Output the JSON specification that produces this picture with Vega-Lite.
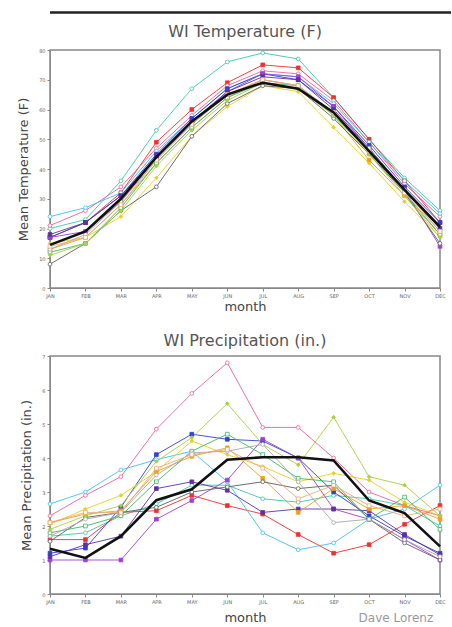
{
  "$schema": "https://vega.github.io/schema/vega-lite/v6.json",
  "background": "white",
  "padding": {"left": 16, "top": 11, "right": 0, "bottom": 0},
  "title": {"text": "Dave Lorenz", "orient": "bottom", "anchor": "end", "fontSize": 12, "color": "#999", "font": "DejaVu Sans", "fontWeight": "normal", "offset": -12, "dx": -19},
  "config": {
    "font": "DejaVu Sans",
    "view": {"stroke": "#888", "strokeWidth": 1.5},
    "title": {"fontSize": 16, "fontWeight": "normal", "color": "#555", "offset": 9},
    "axis": {"labelFontSize": 5, "labelColor": "#666", "tickSize": 3, "tickColor": "#888", "domainColor": "#888", "titleFontSize": 13, "titleFontWeight": "normal", "titleColor": "#444", "grid": false},
    "legend": {"disable": true}
  },
  "datasets": {
    "wi": [
      {"month":"JAN","station":"teal","temp":20,"precip":1.7},{"month":"FEB","station":"teal","temp":23,"precip":1.8},{"month":"MAR","station":"teal","temp":36,"precip":2.3},{"month":"APR","station":"teal","temp":53,"precip":2.65},{"month":"MAY","station":"teal","temp":67,"precip":3.2},{"month":"JUN","station":"teal","temp":76,"precip":3.2},{"month":"JUL","station":"teal","temp":79,"precip":2.8},{"month":"AUG","station":"teal","temp":77,"precip":2.7},{"month":"SEP","station":"teal","temp":64,"precip":2.9},{"month":"OCT","station":"teal","temp":50,"precip":2.8},{"month":"NOV","station":"teal","temp":37,"precip":2.6},{"month":"DEC","station":"teal","temp":26,"precip":2.0},
      {"month":"JAN","station":"red","temp":17,"precip":1.6},{"month":"FEB","station":"red","temp":22,"precip":1.6},{"month":"MAR","station":"red","temp":32,"precip":2.4},{"month":"APR","station":"red","temp":49,"precip":2.45},{"month":"MAY","station":"red","temp":60,"precip":2.9},{"month":"JUN","station":"red","temp":69,"precip":2.6},{"month":"JUL","station":"red","temp":75,"precip":2.35},{"month":"AUG","station":"red","temp":74,"precip":1.75},{"month":"SEP","station":"red","temp":64,"precip":1.2},{"month":"OCT","station":"red","temp":50,"precip":1.45},{"month":"NOV","station":"red","temp":36,"precip":2.05},{"month":"DEC","station":"red","temp":22,"precip":2.6},
      {"month":"JAN","station":"pink","temp":21,"precip":2.3},{"month":"FEB","station":"pink","temp":26,"precip":2.9},{"month":"MAR","station":"pink","temp":34,"precip":3.45},{"month":"APR","station":"pink","temp":47,"precip":4.85},{"month":"MAY","station":"pink","temp":58,"precip":5.9},{"month":"JUN","station":"pink","temp":68,"precip":6.8},{"month":"JUL","station":"pink","temp":73,"precip":4.9},{"month":"AUG","station":"pink","temp":72,"precip":4.9},{"month":"SEP","station":"pink","temp":63,"precip":4.0},{"month":"OCT","station":"pink","temp":49,"precip":3.0},{"month":"NOV","station":"pink","temp":35,"precip":2.6},{"month":"DEC","station":"pink","temp":24,"precip":2.3},
      {"month":"JAN","station":"lightblue","temp":24,"precip":2.65},{"month":"FEB","station":"lightblue","temp":27,"precip":3.0},{"month":"MAR","station":"lightblue","temp":32,"precip":3.65},{"month":"APR","station":"lightblue","temp":46,"precip":3.95},{"month":"MAY","station":"lightblue","temp":57,"precip":4.2},{"month":"JUN","station":"lightblue","temp":67,"precip":3.3},{"month":"JUL","station":"lightblue","temp":72,"precip":1.8},{"month":"AUG","station":"lightblue","temp":71,"precip":1.3},{"month":"SEP","station":"lightblue","temp":62,"precip":1.5},{"month":"OCT","station":"lightblue","temp":49,"precip":2.2},{"month":"NOV","station":"lightblue","temp":36,"precip":2.5},{"month":"DEC","station":"lightblue","temp":25,"precip":3.2},
      {"month":"JAN","station":"blue","temp":17,"precip":1.2},{"month":"FEB","station":"blue","temp":22,"precip":1.35},{"month":"MAR","station":"blue","temp":31,"precip":2.55},{"month":"APR","station":"blue","temp":45,"precip":4.1},{"month":"MAY","station":"blue","temp":57,"precip":4.7},{"month":"JUN","station":"blue","temp":67,"precip":4.55},{"month":"JUL","station":"blue","temp":72,"precip":4.5},{"month":"AUG","station":"blue","temp":70,"precip":4.0},{"month":"SEP","station":"blue","temp":61,"precip":3.0},{"month":"OCT","station":"blue","temp":48,"precip":2.3},{"month":"NOV","station":"blue","temp":34,"precip":1.7},{"month":"DEC","station":"blue","temp":22,"precip":1.2},
      {"month":"JAN","station":"purple","temp":17,"precip":1.0},{"month":"FEB","station":"purple","temp":19,"precip":1.0},{"month":"MAR","station":"purple","temp":29,"precip":1.0},{"month":"APR","station":"purple","temp":44,"precip":2.2},{"month":"MAY","station":"purple","temp":55,"precip":2.75},{"month":"JUN","station":"purple","temp":66,"precip":3.35},{"month":"JUL","station":"purple","temp":72,"precip":4.55},{"month":"AUG","station":"purple","temp":71,"precip":4.0},{"month":"SEP","station":"purple","temp":61,"precip":2.5},{"month":"OCT","station":"purple","temp":47,"precip":2.2},{"month":"NOV","station":"purple","temp":33,"precip":1.6},{"month":"DEC","station":"purple","temp":14,"precip":1.0},
      {"month":"JAN","station":"violet","temp":18,"precip":1.1},{"month":"FEB","station":"violet","temp":22,"precip":1.45},{"month":"MAR","station":"violet","temp":31,"precip":1.7},{"month":"APR","station":"violet","temp":44,"precip":3.1},{"month":"MAY","station":"violet","temp":56,"precip":3.3},{"month":"JUN","station":"violet","temp":66,"precip":3.05},{"month":"JUL","station":"violet","temp":71,"precip":2.4},{"month":"AUG","station":"violet","temp":70,"precip":2.5},{"month":"SEP","station":"violet","temp":60,"precip":2.5},{"month":"OCT","station":"violet","temp":47,"precip":2.45},{"month":"NOV","station":"violet","temp":33,"precip":1.75},{"month":"DEC","station":"violet","temp":20,"precip":1.15},
      {"month":"JAN","station":"yellow","temp":15,"precip":2.05},{"month":"FEB","station":"yellow","temp":17,"precip":2.5},{"month":"MAR","station":"yellow","temp":24,"precip":2.9},{"month":"APR","station":"yellow","temp":37,"precip":3.6},{"month":"MAY","station":"yellow","temp":51,"precip":4.5},{"month":"JUN","station":"yellow","temp":61,"precip":4.1},{"month":"JUL","station":"yellow","temp":68,"precip":3.75},{"month":"AUG","station":"yellow","temp":66,"precip":3.3},{"month":"SEP","station":"yellow","temp":54,"precip":3.55},{"month":"OCT","station":"yellow","temp":42,"precip":3.35},{"month":"NOV","station":"yellow","temp":29,"precip":2.7},{"month":"DEC","station":"yellow","temp":17,"precip":2.3},
      {"month":"JAN","station":"orange","temp":13,"precip":2.1},{"month":"FEB","station":"orange","temp":17,"precip":2.35},{"month":"MAR","station":"orange","temp":28,"precip":2.45},{"month":"APR","station":"orange","temp":42,"precip":3.6},{"month":"MAY","station":"orange","temp":54,"precip":4.05},{"month":"JUN","station":"orange","temp":64,"precip":4.3},{"month":"JUL","station":"orange","temp":70,"precip":3.4},{"month":"AUG","station":"orange","temp":68,"precip":2.4},{"month":"SEP","station":"orange","temp":58,"precip":3.1},{"month":"OCT","station":"orange","temp":43,"precip":2.5},{"month":"NOV","station":"orange","temp":31,"precip":2.6},{"month":"DEC","station":"orange","temp":18,"precip":2.2},
      {"month":"JAN","station":"grey","temp":8,"precip":1.55},{"month":"FEB","station":"grey","temp":15,"precip":2.25},{"month":"MAR","station":"grey","temp":26,"precip":2.4},{"month":"APR","station":"grey","temp":34,"precip":2.55},{"month":"MAY","station":"grey","temp":51,"precip":3.0},{"month":"JUN","station":"grey","temp":62,"precip":3.15},{"month":"JUL","station":"grey","temp":68,"precip":3.3},{"month":"AUG","station":"grey","temp":67,"precip":3.1},{"month":"SEP","station":"grey","temp":57,"precip":3.2},{"month":"OCT","station":"grey","temp":45,"precip":2.2},{"month":"NOV","station":"grey","temp":32,"precip":1.5},{"month":"DEC","station":"grey","temp":15,"precip":1.0},
      {"month":"JAN","station":"green","temp":12,"precip":1.8},{"month":"FEB","station":"green","temp":15,"precip":2.0},{"month":"MAR","station":"green","temp":27,"precip":2.3},{"month":"APR","station":"green","temp":42,"precip":3.3},{"month":"MAY","station":"green","temp":54,"precip":4.2},{"month":"JUN","station":"green","temp":64,"precip":4.7},{"month":"JUL","station":"green","temp":69,"precip":4.1},{"month":"AUG","station":"green","temp":68,"precip":3.4},{"month":"SEP","station":"green","temp":58,"precip":3.3},{"month":"OCT","station":"green","temp":46,"precip":2.2},{"month":"NOV","station":"green","temp":32,"precip":2.85},{"month":"DEC","station":"green","temp":18,"precip":1.9},
      {"month":"JAN","station":"lime","temp":11,"precip":1.9},{"month":"FEB","station":"lime","temp":15,"precip":2.3},{"month":"MAR","station":"lime","temp":26,"precip":2.6},{"month":"APR","station":"lime","temp":41,"precip":3.9},{"month":"MAY","station":"lime","temp":53,"precip":4.6},{"month":"JUN","station":"lime","temp":63,"precip":5.6},{"month":"JUL","station":"lime","temp":69,"precip":4.4},{"month":"AUG","station":"lime","temp":67,"precip":3.8},{"month":"SEP","station":"lime","temp":58,"precip":5.2},{"month":"OCT","station":"lime","temp":45,"precip":3.45},{"month":"NOV","station":"lime","temp":31,"precip":3.2},{"month":"DEC","station":"lime","temp":17,"precip":2.3},
      {"month":"JAN","station":"lightgrey","temp":13,"precip":1.7},{"month":"FEB","station":"lightgrey","temp":18,"precip":2.2},{"month":"MAR","station":"lightgrey","temp":29,"precip":2.4},{"month":"APR","station":"lightgrey","temp":43,"precip":3.5},{"month":"MAY","station":"lightgrey","temp":55,"precip":4.15},{"month":"JUN","station":"lightgrey","temp":65,"precip":4.2},{"month":"JUL","station":"lightgrey","temp":70,"precip":4.4},{"month":"AUG","station":"lightgrey","temp":68,"precip":3.3},{"month":"SEP","station":"lightgrey","temp":59,"precip":2.1},{"month":"OCT","station":"lightgrey","temp":47,"precip":2.2},{"month":"NOV","station":"lightgrey","temp":33,"precip":1.6},{"month":"DEC","station":"lightgrey","temp":19,"precip":1.1},
      {"month":"JAN","station":"peach","temp":14,"precip":2.1},{"month":"FEB","station":"peach","temp":17,"precip":2.4},{"month":"MAR","station":"peach","temp":28,"precip":2.4},{"month":"APR","station":"peach","temp":43,"precip":3.7},{"month":"MAY","station":"peach","temp":55,"precip":4.1},{"month":"JUN","station":"peach","temp":65,"precip":4.25},{"month":"JUL","station":"peach","temp":70,"precip":3.7},{"month":"AUG","station":"peach","temp":68,"precip":2.8},{"month":"SEP","station":"peach","temp":59,"precip":3.2},{"month":"OCT","station":"peach","temp":46,"precip":2.6},{"month":"NOV","station":"peach","temp":32,"precip":2.3},{"month":"DEC","station":"peach","temp":19,"precip":2.5}
    ],
    "mean": [
      {"month":"JAN","temp":14.5,"precip":1.33},{"month":"FEB","temp":19,"precip":1.06},{"month":"MAR","temp":30,"precip":1.7},{"month":"APR","temp":44,"precip":2.76},{"month":"MAY","temp":56,"precip":3.08},{"month":"JUN","temp":65,"precip":3.95},{"month":"JUL","temp":69,"precip":4.02},{"month":"AUG","temp":67,"precip":4.02},{"month":"SEP","temp":59,"precip":3.93},{"month":"OCT","temp":46,"precip":2.75},{"month":"NOV","temp":33,"precip":2.38},{"month":"DEC","temp":20.5,"precip":1.4}
    ],
    "frame": [{"edge": 0}]
  },
  "spacing": 9,
  "vconcat": [
    {
      "width": 401, "height": 1,
      "view": {"stroke": null},
      "data": {"name": "frame"},
      "mark": {"type": "rule", "color": "#222", "strokeWidth": 2.5},
      "encoding": {"y": {"field": "edge", "type": "quantitative", "axis": null}}
    },
    {
      "spacing": 18,
      "resolve": {"scale": {"stroke": "independent", "fill": "independent", "shape": "independent", "y": "independent"}},
      "vconcat": [
        {
          "width": 390, "height": 238,
          "title": {"text": "WI Temperature (F)", "offset": 8},
          "encoding": {
            "x": {"field": "month", "type": "ordinal", "sort": ["JAN","FEB","MAR","APR","MAY","JUN","JUL","AUG","SEP","OCT","NOV","DEC"], "scale": {"type": "point", "padding": 0}, "axis": {"title": "month", "labelAngle": 0, "titlePadding": 2}},
            "y": {"field": "temp", "type": "quantitative", "scale": {"domain": [0, 80]}, "axis": {"title": "Mean Temperature (F)", "values": [0,10,20,30,40,50,60,70,80], "titlePadding": 8}}
          },
          "layer": [
            {"data": {"name": "wi"}, "mark": {"type": "line", "strokeWidth": 0.9},
             "encoding": {"detail": {"field": "station"}, "stroke": {"field": "station", "type": "nominal", "scale": {"domain": ["teal","red","pink","lightblue","blue","purple","violet","yellow","orange","grey","green","lime","lightgrey","peach"], "range": ["#3cc8a8","#f03030","#f0609a","#40c0f0","#3040d0","#a040d0","#6030a0","#e8d020","#f0a020","#606060","#40b860","#a8d040","#a8a8a8","#f0a878"]}}}},
            {"data": {"name": "wi"}, "mark": {"type": "point", "size": 14, "strokeWidth": 0.8, "opacity": 1},
             "encoding": {
               "stroke": {"field": "station", "type": "nominal", "scale": {"domain": ["teal","red","pink","lightblue","blue","purple","violet","yellow","orange","grey","green","lime","lightgrey","peach"], "range": ["#3cc8a8","#f03030","#f0609a","#40c0f0","#3040d0","#a040d0","#6030a0","#e8d020","#f0a020","#606060","#40b860","#a8d040","#a8a8a8","#f0a878"]}},
               "fill": {"field": "station", "type": "nominal", "scale": {"domain": ["teal","red","pink","lightblue","blue","purple","violet","yellow","orange","grey","green","lime","lightgrey","peach"], "range": ["white","#f03030","white","white","#3040d0","#a040d0","#6030a0","#e8d020","#f0a020","white","white","#a8d040","white","white"]}},
               "shape": {"field": "station", "type": "nominal", "scale": {"domain": ["teal","red","pink","lightblue","blue","purple","violet","yellow","orange","grey","green","lime","lightgrey","peach"], "range": ["circle","square","circle","circle","square","square","square","diamond","square","circle","square","diamond","circle","square"]}}
             }},
            {"data": {"name": "mean"}, "mark": {"type": "line", "stroke": "#111", "strokeWidth": 2.6}, "encoding": {}}
          ]
        },
        {
          "width": 390, "height": 238,
          "title": {"text": "WI Precipitation (in.)", "offset": 5},
          "encoding": {
            "x": {"field": "month", "type": "ordinal", "sort": ["JAN","FEB","MAR","APR","MAY","JUN","JUL","AUG","SEP","OCT","NOV","DEC"], "scale": {"type": "point", "padding": 0}, "axis": {"title": "month", "labelAngle": 0, "titlePadding": 7}},
            "y": {"field": "precip", "type": "quantitative", "scale": {"domain": [0, 7]}, "axis": {"title": "Mean Precipitation (in.)", "values": [0,1,2,3,4,5,6,7], "titlePadding": 8}}
          },
          "layer": [
            {"data": {"name": "wi"}, "mark": {"type": "line", "strokeWidth": 0.9},
             "encoding": {"detail": {"field": "station"}, "stroke": {"field": "station", "type": "nominal", "scale": {"domain": ["teal","red","pink","lightblue","blue","purple","violet","yellow","orange","grey","green","lime","lightgrey","peach"], "range": ["#3cc8a8","#f03030","#f0609a","#40c0f0","#3040d0","#a040d0","#6030a0","#e8d020","#f0a020","#606060","#40b860","#a8d040","#a8a8a8","#f0a878"]}}}},
            {"data": {"name": "wi"}, "mark": {"type": "point", "size": 14, "strokeWidth": 0.8, "opacity": 1},
             "encoding": {
               "stroke": {"field": "station", "type": "nominal", "scale": {"domain": ["teal","red","pink","lightblue","blue","purple","violet","yellow","orange","grey","green","lime","lightgrey","peach"], "range": ["#3cc8a8","#f03030","#f0609a","#40c0f0","#3040d0","#a040d0","#6030a0","#e8d020","#f0a020","#606060","#40b860","#a8d040","#a8a8a8","#f0a878"]}},
               "fill": {"field": "station", "type": "nominal", "scale": {"domain": ["teal","red","pink","lightblue","blue","purple","violet","yellow","orange","grey","green","lime","lightgrey","peach"], "range": ["white","#f03030","white","white","#3040d0","#a040d0","#6030a0","#e8d020","#f0a020","white","white","#a8d040","white","white"]}},
               "shape": {"field": "station", "type": "nominal", "scale": {"domain": ["teal","red","pink","lightblue","blue","purple","violet","yellow","orange","grey","green","lime","lightgrey","peach"], "range": ["circle","square","circle","circle","square","square","square","diamond","square","circle","square","diamond","circle","square"]}}
             }},
            {"data": {"name": "mean"}, "mark": {"type": "line", "stroke": "#111", "strokeWidth": 2.6}, "encoding": {}}
          ]
        }
      ]
    }
  ]
}
